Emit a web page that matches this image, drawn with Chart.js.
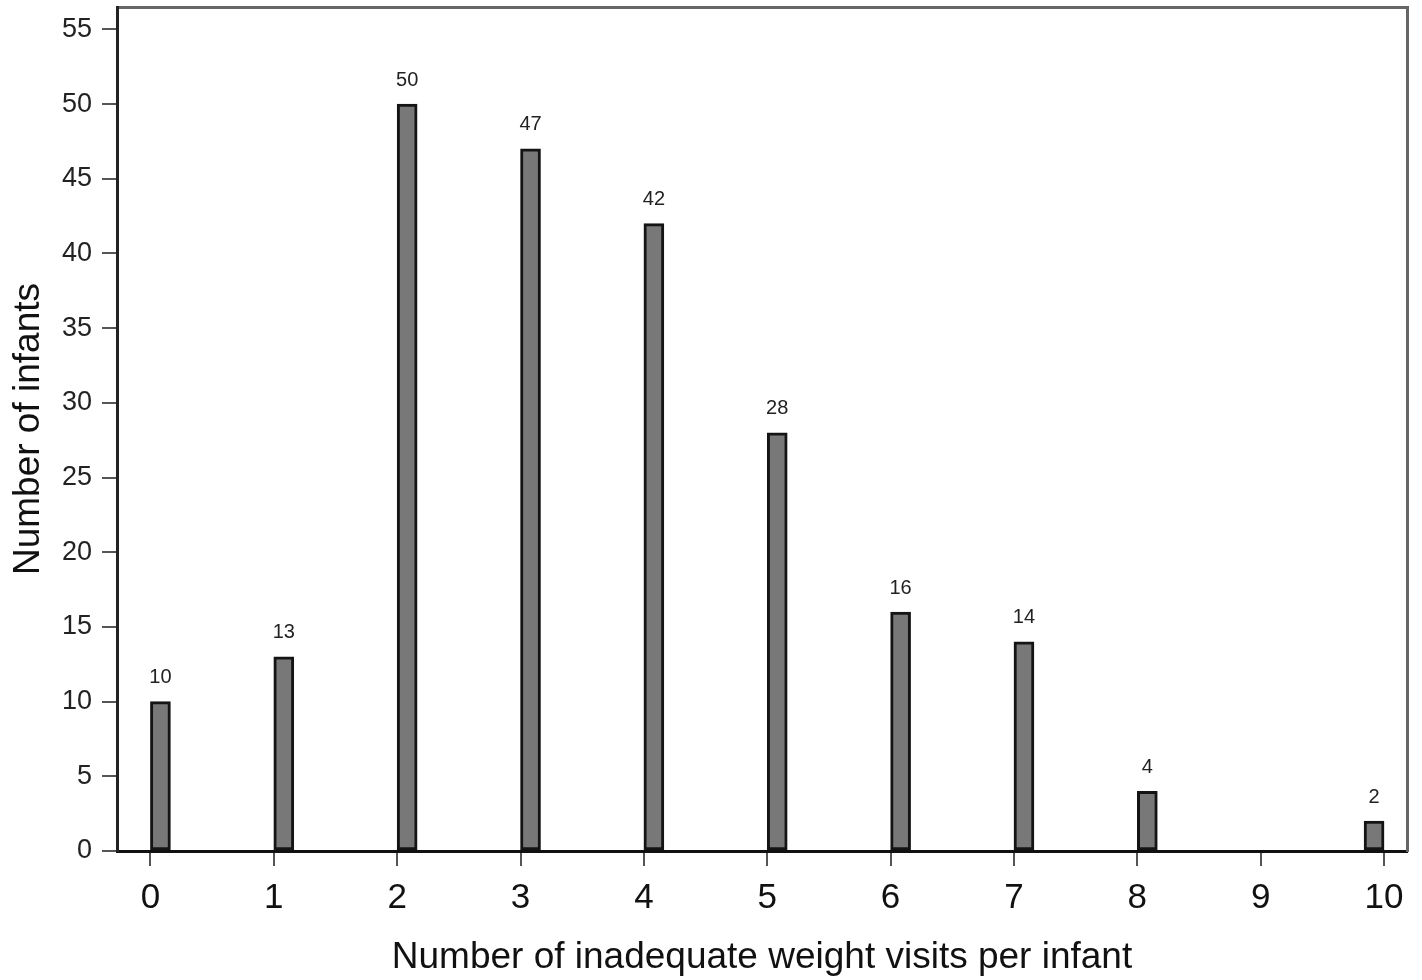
<!DOCTYPE html>
<html>
<head>
<meta charset="utf-8">
<script src="https://cdn.jsdelivr.net/npm/chart.js@4.4.1/dist/chart.umd.min.js"></script>
<style>
  html, body { margin: 0; padding: 0; background: #fff; }
  #wrap { width: 1422px; height: 980px; position: relative; }
</style>
</head>
<body>
<div id="wrap"><canvas id="c" width="1422" height="980"></canvas></div>
<script>
// Data
const visits = [0, 1, 2, 3, 4, 5, 6, 7, 8, 10];
const infants = [10, 13, 50, 47, 42, 28, 16, 14, 4, 2];
const xTickValues = [0, 1, 2, 3, 4, 5, 6, 7, 8, 9, 10];
const yTickStep = 5;
const xTitle = 'Number of inadequate weight visits per infant';
const yTitle = 'Number of infants';

// Bars sit right of their tick, except the last one (left of tick 10)
const lastX = 10;
const rightPts = visits.map((v, i) => ({ x: v, y: infants[i] })).filter(p => p.x !== lastX);
const leftPts = visits.map((v, i) => ({ x: v, y: infants[i] })).filter(p => p.x === lastX);

const FONT = '"Liberation Sans", Arial, sans-serif';
const barStyle = {
  backgroundColor: '#787878',
  borderColor: '#141414',
  borderWidth: 3,
  borderSkipped: false,
  barThickness: 20,
  grouped: true
};

const labelPlugin = {
  id: 'valueLabels',
  afterDatasetsDraw(chart) {
    const ctx = chart.ctx;
    ctx.save();
    ctx.font = '20px ' + FONT;
    ctx.fillStyle = '#222';
    ctx.textAlign = 'center';
    ctx.textBaseline = 'bottom';
    chart.data.datasets.forEach((ds, di) => {
      const meta = chart.getDatasetMeta(di);
      meta.data.forEach((el, i) => {
        ctx.fillText(String(ds.data[i].y), el.x, el.y - 14);
      });
    });
    ctx.restore();
  }
};

function noPad(scale) {
  scale.paddingTop = 0; scale.paddingBottom = 0;
  scale.paddingLeft = 0; scale.paddingRight = 0;
}

new Chart(document.getElementById('c'), {
  type: 'bar',
  data: {
    datasets: [
      Object.assign({ label: 'left', data: leftPts }, barStyle),
      Object.assign({ label: 'right', data: rightPts }, barStyle)
    ]
  },
  options: {
    responsive: false,
    animation: false,
    devicePixelRatio: 1,
    layout: { padding: { top: 7, right: 15, left: 0, bottom: 0 } },
    plugins: { legend: { display: false }, tooltip: { enabled: false } },
    scales: {
      x: {
        type: 'linear',
        position: 'bottom',
        offset: false,
        min: -0.271,
        max: 10.186,
        afterBuildTicks(scale) { scale.ticks = xTickValues.map(v => ({ value: v })); },
        afterFit(scale) { scale.height = 129; noPad(scale); },
        ticks: {
          includeBounds: false,
          autoSkip: false,
          maxRotation: 0,
          color: '#111',
          font: { family: FONT, size: 35 },
          padding: 11
        },
        grid: {
          offset: false,
          drawOnChartArea: false,
          drawTicks: true,
          tickLength: 15,
          color: '#555',
          lineWidth: 2
        },
        border: { display: true, color: '#111', width: 3 },
        title: {
          display: true,
          text: xTitle,
          color: '#111',
          font: { family: FONT, size: 37 },
          padding: { top: 0, bottom: 0 }
        }
      },
      x2: {
        type: 'linear',
        position: 'top',
        offset: false,
        min: -0.271,
        max: 10.186,
        afterFit(scale) { scale.height = 0; noPad(scale); },
        ticks: { display: false },
        grid: { display: false, drawTicks: false, offset: false },
        border: { display: true, color: '#666', width: 3 }
      },
      y: {
        type: 'linear',
        position: 'left',
        min: 0,
        max: 56.5,
        afterFit(scale) { scale.width = 117; noPad(scale); },
        ticks: {
          stepSize: yTickStep,
          includeBounds: false,
          color: '#222',
          font: { family: FONT, size: 27 },
          padding: 10
        },
        grid: {
          drawOnChartArea: false,
          drawTicks: true,
          tickLength: 15,
          color: '#555',
          lineWidth: 2
        },
        border: { display: true, color: '#222', width: 3 },
        title: {
          display: true,
          text: yTitle,
          color: '#111',
          font: { family: FONT, size: 37 },
          padding: { top: 7, bottom: 0 }
        }
      },
      y2: {
        type: 'linear',
        position: 'right',
        min: 0,
        max: 56.5,
        afterFit(scale) { scale.width = 0; noPad(scale); },
        ticks: { display: false },
        grid: { display: false, drawTicks: false },
        border: { display: true, color: '#666', width: 3 }
      }
    }
  },
  plugins: [labelPlugin]
});
</script>
</body>
</html>
